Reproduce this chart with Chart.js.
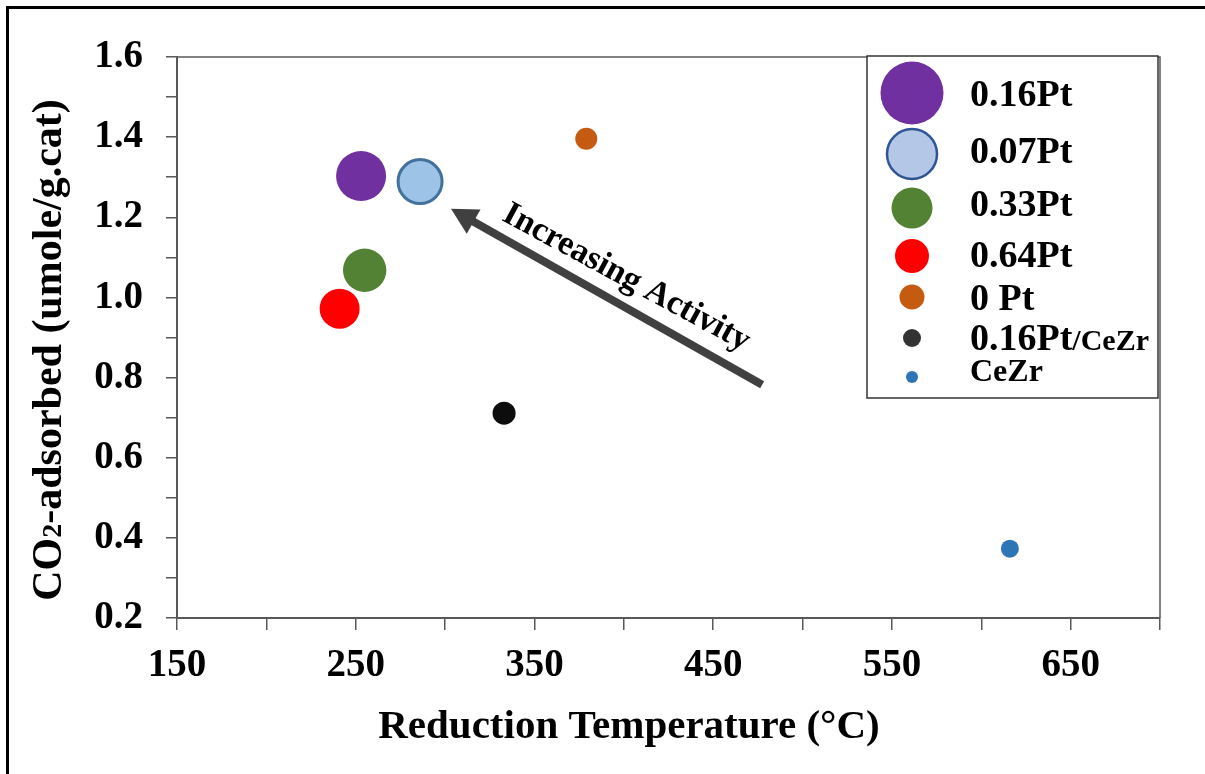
<!DOCTYPE html>
<html><head><meta charset="utf-8">
<script src="https://cdn.jsdelivr.net/npm/chart.js@4.4.1/dist/chart.umd.min.js"></script>
<style>html,body{margin:0;padding:0;background:#fff;} canvas{display:block;}</style>
</head><body>
<canvas id="c" width="1205" height="774"></canvas>
<script>
// ---- data ----
const seriesLabels = ['0.16Pt', '0.07Pt', '0.33Pt', '0.64Pt', '0 Pt', '0.16Pt/CeZr', 'CeZr'];
const reductionTemp = [253, 286, 255, 241, 379, 333, 616];
const co2Adsorbed = [1.303, 1.289, 1.068, 0.972, 1.396, 0.711, 0.373];
const bubbleSize = [25, 22, 21.7, 20, 11, 11.5, 9];
const xTickLabels = ['150', '250', '350', '450', '550', '650'];
const yTickLabels = ['0.2', '0.4', '0.6', '0.8', '1.0', '1.2', '1.4', '1.6'];
const xTitle = 'Reduction Temperature (°C)';
const yTitleParts = ['CO', '2', '-adsorbed (umole/g.cat)'];
const arrowText = 'Increasing Activity';
const arrowFrom = [477.4, 0.782];
const arrowTo = [303.3, 1.221];
const arrowLabelAt = [401.4, 1.049];

// ---- styles ----
const fills = ['#7030A0', '#9DC3E6', '#548235', '#FF0000', '#C55A11', '#0d0d0d', '#2E75B6'];
const legendFills = ['#7030A0', '#B4C7E7', '#548235', '#FF0000', '#C55A11', '#333333', '#2E75B6'];
const borders = [0, 3, 0, 0, 0, 0, 0];
const FONT = '"Liberation Serif", "Times New Roman", serif';

const datasets = seriesLabels.map((lab, i) => ({
  label: lab,
  data: [{ x: reductionTemp[i], y: co2Adsorbed[i], r: bubbleSize[i] }],
  backgroundColor: fills[i],
  borderColor: borders[i] ? '#41719C' : fills[i],
  borderWidth: borders[i],
  hoverRadius: 0
}));

const decor = {
  id: 'decor',
  beforeDraw(chart) {
    const ctx = chart.ctx;
    ctx.save(); ctx.fillStyle = '#fff'; ctx.fillRect(0, 0, chart.width, chart.height); ctx.restore();
  },
  beforeDatasetsDraw(chart) {
    const { ctx, chartArea: a } = chart;
    ctx.save();
    ctx.strokeStyle = '#595959'; ctx.lineWidth = 1.5;
    ctx.beginPath(); ctx.moveTo(a.left, a.top); ctx.lineTo(a.right, a.top); ctx.lineTo(a.right, a.bottom); ctx.stroke();
    ctx.restore();
  },
  afterDraw(chart) {
    const { ctx } = chart;
    const xs = chart.scales.x, ys = chart.scales.y;
    ctx.save();
    // outer frame (left + top)
    ctx.strokeStyle = '#000'; ctx.lineWidth = 3;
    ctx.beginPath(); ctx.moveTo(7.5, chart.height); ctx.lineTo(7.5, 7.5); ctx.lineTo(chart.width, 7.5); ctx.stroke();

    // arrow
    const x0 = xs.getPixelForValue(arrowFrom[0]), y0 = ys.getPixelForValue(arrowFrom[1]);
    const x1 = xs.getPixelForValue(arrowTo[0]), y1 = ys.getPixelForValue(arrowTo[1]);
    const ang = Math.atan2(y1 - y0, x1 - x0);
    const headLen = 26, headHalf = 14;
    const bx = x1 - headLen * Math.cos(ang), by = y1 - headLen * Math.sin(ang);
    ctx.strokeStyle = '#404040'; ctx.fillStyle = '#404040'; ctx.lineWidth = 8; ctx.lineCap = 'butt';
    ctx.beginPath(); ctx.moveTo(x0, y0); ctx.lineTo(bx + 3 * Math.cos(ang), by + 3 * Math.sin(ang)); ctx.stroke();
    ctx.beginPath(); ctx.moveTo(x1, y1);
    ctx.lineTo(bx + headHalf * Math.sin(ang), by - headHalf * Math.cos(ang));
    ctx.lineTo(bx - headHalf * Math.sin(ang), by + headHalf * Math.cos(ang));
    ctx.closePath(); ctx.fill();

    // arrow label
    ctx.save();
    const tx = xs.getPixelForValue(arrowLabelAt[0]), ty = ys.getPixelForValue(arrowLabelAt[1]);
    ctx.translate(tx, ty); ctx.rotate(28.5 * Math.PI / 180);
    ctx.font = 'bold 34px ' + FONT; ctx.fillStyle = '#000';
    ctx.textAlign = 'center'; ctx.textBaseline = 'middle';
    ctx.fillText(arrowText, 0, 0);
    ctx.restore();

    // x title
    ctx.fillStyle = '#000';
    ctx.font = 'bold 41px ' + FONT; ctx.textAlign = 'center'; ctx.textBaseline = 'middle';
    ctx.fillText(xTitle, 629, 727);

    // y title (rotated, with small "2")
    ctx.save();
    ctx.translate(47, 350); ctx.rotate(-Math.PI / 2);
    const sizes = [42, 28, 42];
    let total = 0;
    const widths = yTitleParts.map((p, i) => { ctx.font = 'bold ' + sizes[i] + 'px ' + FONT; const w = ctx.measureText(p).width; total += w; return w; });
    let cx = -total / 2;
    ctx.textAlign = 'left'; ctx.textBaseline = 'alphabetic';
    yTitleParts.forEach((p, i) => { ctx.font = 'bold ' + sizes[i] + 'px ' + FONT; ctx.fillText(p, cx, 14); cx += widths[i]; });
    ctx.restore();

    // legend
    const L = 867, T = 56, R = 1158, B = 398;
    ctx.fillStyle = '#fff'; ctx.fillRect(L, T, R - L, B - T);
    ctx.strokeStyle = '#333'; ctx.lineWidth = 1.5; ctx.strokeRect(L, T, R - L, B - T);
    const markerY = [93, 154, 208, 256, 297, 338, 377];
    const markerR = [31.5, 25, 20.5, 17, 12.5, 9, 6];
    const textY = [96, 153, 206, 257, 300, 340, 373];
    const textSize = [38, 38, 38, 38, 38, 38, 32];
    seriesLabels.forEach((lab, i) => {
      ctx.beginPath(); ctx.arc(912, markerY[i], markerR[i], 0, Math.PI * 2);
      ctx.fillStyle = legendFills[i]; ctx.fill();
      if (borders[i]) { ctx.strokeStyle = '#2F5597'; ctx.lineWidth = 2.5; ctx.stroke(); }
      ctx.fillStyle = '#000'; ctx.textAlign = 'left'; ctx.textBaseline = 'middle';
      const slash = lab.indexOf('/');
      if (slash > 0) {
        const a = lab.slice(0, slash), b = lab.slice(slash);
        ctx.font = 'bold ' + textSize[i] + 'px ' + FONT;
        ctx.fillText(a, 970, textY[i]);
        const w = ctx.measureText(a).width;
        ctx.font = 'bold 30px ' + FONT;
        ctx.fillText(b, 970 + w, textY[i] + 2);
      } else {
        ctx.font = 'bold ' + textSize[i] + 'px ' + FONT;
        ctx.fillText(lab, 970, textY[i]);
      }
    });
    ctx.restore();
  }
};

new Chart(document.getElementById('c'), {
  type: 'bubble',
  data: { datasets },
  options: {
    responsive: false,
    animation: false,
    events: [],
    layout: { padding: { top: 57, right: 45, left: 0, bottom: 0 } },
    plugins: { legend: { display: false }, tooltip: { enabled: false } },
    scales: {
      x: {
        type: 'linear', min: 150, max: 700,
        afterFit(s) { s.height = 156; },
        ticks: {
          stepSize: 50, autoSkip: false, maxRotation: 0, padding: 13,
          color: '#000', font: { family: FONT, size: 39, weight: 'bold' },
          callback: v => xTickLabels.includes(String(v)) ? String(v) : ''
        },
        grid: { drawOnChartArea: false, drawTicks: true, tickLength: 12, color: '#595959', lineWidth: 1.5 },
        border: { display: true, color: '#595959', width: 2 }
      },
      y: {
        type: 'linear', min: 0.2, max: 1.6,
        afterFit(s) { s.width = 177; },
        ticks: {
          stepSize: 0.1, autoSkip: false, padding: 23,
          color: '#000', font: { family: FONT, size: 39, weight: 'bold' },
          callback: v => { const s = Number(v).toFixed(1); return yTickLabels.includes(s) ? s : ''; }
        },
        grid: { drawOnChartArea: false, drawTicks: true, tickLength: 11, color: '#595959', lineWidth: 1.5 },
        border: { display: true, color: '#595959', width: 2 }
      }
    }
  },
  plugins: [decor]
});
</script>
</body></html>
